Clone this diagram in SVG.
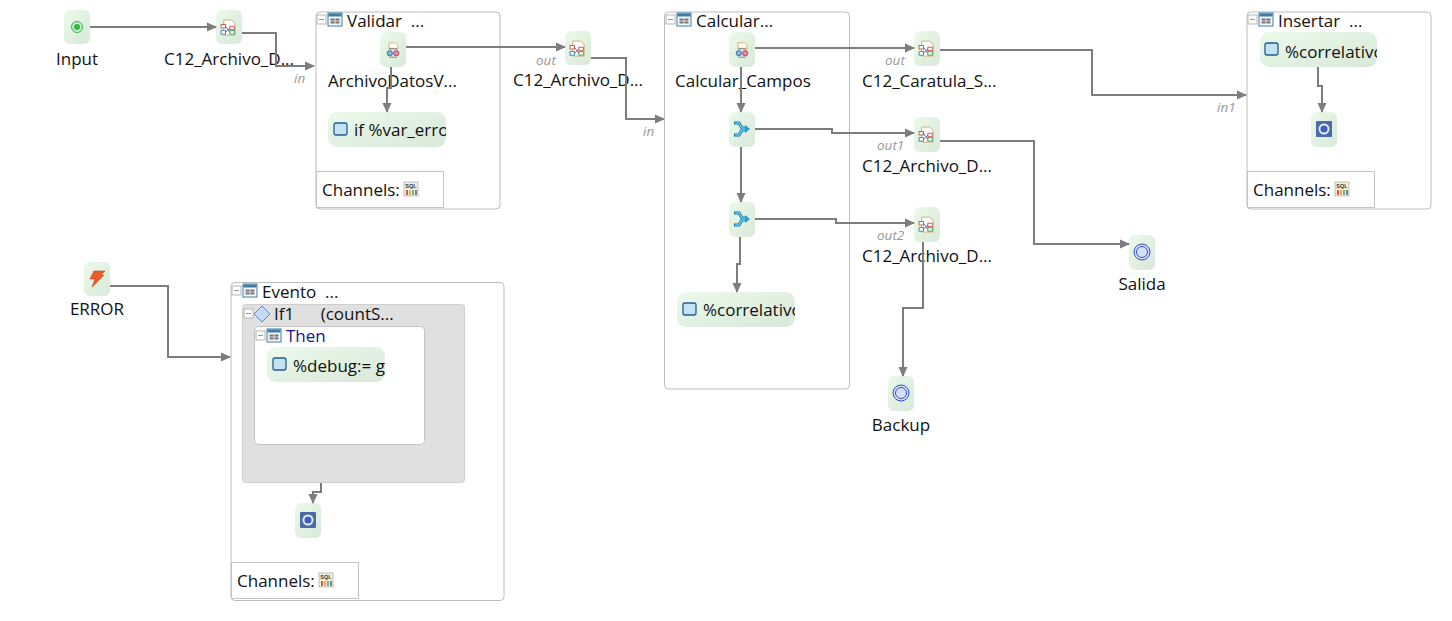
<svg xmlns="http://www.w3.org/2000/svg" width="1452" height="621" viewBox="0 0 1452 621">
<style>
text{font-family:"Open Sans","Noto Sans","Liberation Sans",sans-serif;font-size:17px;fill:#111;white-space:pre}
.port{font-size:13.500px;font-style:italic;fill:#999}
.then{fill:#14148c}
.sqlt{font-family:"Liberation Sans",sans-serif;font-size:5.500px;font-weight:bold;fill:#333}
.box{fill:#fff;stroke:#bdbdbd;stroke-width:1}
.ch{fill:#fff;stroke:#c4c4c4;stroke-width:1}
.c{fill:none;stroke:#7d7d7d;stroke-width:2;marker-end:url(#arr)}
.n{fill:url(#g)}
</style>
<defs>
<linearGradient id="g" x1="0" y1="0" x2="1" y2="1"><stop offset="0" stop-color="#ebfaea"/><stop offset="1" stop-color="#d8e8d9"/></linearGradient>
<marker id="arr" markerWidth="10" markerHeight="10" refX="9" refY="5" orient="auto" markerUnits="userSpaceOnUse"><path d="M0 0.500L10 5L0 9.500Z" fill="#7d7d7d"/></marker>
<g id="collapse"><rect width="9" height="9" fill="#fff" stroke="#b5b5b5"/><path d="M2 4.500H7" stroke="#999"/></g>
<g id="tbl"><rect width="14" height="13" fill="#f4f8fb" stroke="#3d7ea8"/><rect x="0.500" y="0.500" width="13" height="3" fill="#3d7ea8"/><rect x="2.500" y="5.500" width="9" height="5" fill="#777"/><path d="M7 5v6M2 8h10" stroke="#fff" stroke-width=".7"/></g>
<g id="sql"><rect width="14" height="14" fill="#f3efdf" stroke="#999" stroke-width=".6"/><text class="sqlt" x="7" y="6" text-anchor="middle">SQL</text><path d="M3 8v5" stroke="#c33" stroke-width="1.600"/><path d="M6 8v5" stroke="#d9a520" stroke-width="1.600"/><path d="M9 8v5" stroke="#4a8" stroke-width="1.600"/><path d="M12 8v5" stroke="#666" stroke-width="1.600"/></g>
<g id="doc" transform="scale(.88)"><path d="M-6-9H3L7-5V8H-6Z" fill="#fff" stroke="#c9a860"/><rect x="-9" y="-4" width="5" height="4" fill="#fff" stroke="#c0504d"/><rect x="-9" y="3" width="5" height="4" fill="#fff" stroke="#3d7ea8"/><rect x="1" y="-2" width="5" height="4" fill="#fff" stroke="#c0504d"/><rect x="1" y="3" width="5" height="4" fill="#fff" stroke="#3a9a52"/><path d="M-4-2L1 5M-4 5L1 0" stroke="#446" stroke-width=".8"/></g>
<g id="xf" transform="scale(.8)"><path d="M-5-9H3L6-6V-1H-5Z" fill="#fff" stroke="#c9a860"/><circle cx="-4" cy="4" r="3.300" fill="#7fb4e0" stroke="#2b5c8a"/><circle cx="4" cy="4" r="3.300" fill="#e88aa0" stroke="#a03050"/><path d="M-5-2H5M-5 9H5" stroke="#555" stroke-width=".8"/></g>
<g id="mg"><path d="M-7-6H-2L1-1H6M-7 6H-2L1 1H6" fill="none" stroke="#1a6fa0" stroke-width="3.200"/><path d="M-6-6H-2L1-1H6M-6 6H-2L1 1H6" fill="none" stroke="#5cd0f4" stroke-width="1.600"/><path d="M4-4L9 0L4 4Z" fill="#2a9ccc"/></g>
<g id="stop"><rect x="-8" y="-8" width="16" height="16" rx="1" fill="#4a6aa8"/><circle r="5.500" fill="#e8eef8"/><circle r="3.600" fill="#3f60b8"/></g>
<g id="end"><circle r="8" fill="#d6e0fa" stroke="#3050c0"/><circle r="5.500" fill="#d6e0fa" stroke="#3050c0"/></g>
<g id="act"><rect x="-7" y="-6" width="13" height="12" rx="2" fill="#c4e2f4" stroke="#1f5f8f" stroke-width="1.300"/></g>
<clipPath id="c1"><rect x="328" y="112" width="118" height="35"/></clipPath>
<clipPath id="c2"><rect x="677" y="292" width="118" height="35"/></clipPath>
<clipPath id="c3"><rect x="1260" y="32" width="117" height="35"/></clipPath>
<clipPath id="c4"><rect x="267" y="347" width="118" height="35"/></clipPath>
</defs>

<g id="validar"><rect class="box" x="316" y="12" width="184" height="197" rx="4"/><rect class="ch" x="316.500" y="171.500" width="127" height="36"/><use href="#collapse" x="317" y="15"/><use href="#tbl" x="328" y="13"/><text x="347" y="27">Validar  ...</text><text x="322" y="196">Channels:</text><use href="#sql" x="404" y="182"/></g>
<g id="calcular"><rect class="box" x="664.500" y="12" width="185" height="377" rx="4"/><use href="#collapse" x="666" y="15"/><use href="#tbl" x="677" y="13"/><text x="696" y="27">Calcular...</text></g>
<g id="insertar"><rect class="box" x="1247" y="12" width="184" height="197" rx="4"/><rect class="ch" x="1247.500" y="171.500" width="127" height="36"/><use href="#collapse" x="1248" y="15"/><use href="#tbl" x="1259" y="13"/><text x="1278" y="27">Insertar  ...</text><text x="1253" y="196">Channels:</text><use href="#sql" x="1335" y="182"/></g>
<g id="evento"><rect class="box" x="231" y="282.500" width="273" height="318" rx="4"/><rect class="ch" x="231.500" y="562.500" width="127" height="36"/><use href="#collapse" x="232" y="286"/><use href="#tbl" x="243" y="284"/><text x="262" y="298">Evento  ...</text><text x="237" y="587">Channels:</text><use href="#sql" x="319" y="573"/></g>
<g id="if1"><rect x="242.500" y="304.500" width="222" height="178" rx="3" fill="#e0e0e0" stroke="#cfcfcf"/><use href="#collapse" x="244" y="309"/><path d="M262 306L270 314L262 322L254 314Z" fill="#c8daf8" stroke="#5f86c8"/><text x="274" y="320">If1      (countS...</text></g>
<g id="then"><rect x="254.500" y="326.500" width="170" height="118" rx="4" fill="#fff" stroke="#c4c4c4"/><use href="#collapse" x="256" y="331"/><use href="#tbl" x="267" y="329"/><text class="then" x="286" y="342">Then</text></g>

<g id="input"><rect class="n" x="64" y="10" width="26" height="34" rx="6"/><circle cx="77" cy="27" r="5.500" fill="#c8f0c8" stroke="#3cb043"/><circle cx="77" cy="27" r="3" fill="#2fb84a"/><text x="77" y="65" text-anchor="middle">Input</text></g>
<g id="c12a"><rect class="n" x="216" y="10" width="26" height="34" rx="6"/><use href="#doc" x="229" y="28"/><text x="164" y="65">C12_Archivo_D...</text></g>
<g id="archivodatos"><rect class="n" x="380" y="32" width="26" height="35" rx="6"/><use href="#xf" x="393" y="50"/><text x="328" y="87">ArchivoDatosV...</text></g>
<g id="ifvar"><rect class="n" x="328" y="112" width="118" height="35" rx="9"/><use href="#act" x="341" y="129"/><text x="354" y="136" clip-path="url(#c1)">if %var_error</text></g>
<g id="c12b"><rect class="n" x="565" y="31" width="26" height="34" rx="6"/><use href="#doc" x="578" y="49"/><text x="513" y="86">C12_Archivo_D...</text></g>
<g id="calcampos"><rect class="n" x="729" y="32" width="26" height="35" rx="6"/><use href="#xf" x="742" y="50"/><text x="675" y="87">Calcular_Campos</text></g>
<g id="merge1"><rect class="n" x="729" y="112" width="26" height="35" rx="6"/><use href="#mg" x="741" y="129"/></g>
<g id="merge2"><rect class="n" x="729" y="202" width="26" height="35" rx="6"/><use href="#mg" x="741" y="219"/></g>
<g id="correl"><rect class="n" x="677" y="292" width="118" height="35" rx="9"/><use href="#act" x="690" y="309"/><text x="703" y="316" clip-path="url(#c2)">%correlativo</text></g>
<g id="caratula"><rect class="n" x="914" y="31" width="26" height="35" rx="6"/><use href="#doc" x="927" y="49"/><text x="862" y="87">C12_Caratula_S...</text></g>
<g id="c12c"><rect class="n" x="914" y="117" width="26" height="35" rx="6"/><use href="#doc" x="927" y="135"/><text x="862" y="172">C12_Archivo_D...</text></g>
<g id="c12d"><rect class="n" x="914" y="207" width="26" height="35" rx="6"/><use href="#doc" x="927" y="225"/><text x="862" y="262">C12_Archivo_D...</text></g>
<g id="salida"><rect class="n" x="1129" y="235" width="26" height="35" rx="6"/><use href="#end" x="1142" y="252"/><text x="1142" y="290" text-anchor="middle">Salida</text></g>
<g id="backup"><rect class="n" x="888" y="376" width="26" height="35" rx="6"/><use href="#end" x="901" y="393"/><text x="901" y="431" text-anchor="middle">Backup</text></g>
<g id="correl2"><rect class="n" x="1260" y="32" width="117" height="35" rx="9"/><use href="#act" x="1272" y="49"/><text x="1285" y="58" clip-path="url(#c3)">%correlativo</text></g>
<g id="stop1"><rect class="n" x="1311" y="112" width="26" height="35" rx="6"/><use href="#stop" x="1324" y="129"/></g>
<g id="error"><rect class="n" x="84" y="262" width="26" height="34" rx="6"/><path d="M94 271H105L101 275H104L92 287L95 279H90Z" fill="#ef5a2a" stroke="#c8401a" stroke-width=".6"/><text x="97" y="315" text-anchor="middle">ERROR</text></g>
<g id="debug"><rect class="n" x="267" y="347" width="118" height="35" rx="9"/><use href="#act" x="280" y="364"/><text x="293" y="372" clip-path="url(#c4)">%debug:= g</text></g>
<g id="stop2"><rect class="n" x="295" y="503" width="26" height="35" rx="6"/><use href="#stop" x="308" y="520"/></g>

<g id="connectors">
<path class="c" d="M90 27H216"/>
<path class="c" d="M242 33H276V66H314"/>
<path class="c" d="M406 47H565"/>
<path class="c" d="M391 67V88H387V112"/>
<path class="c" d="M591 58H626V119H664"/>
<path class="c" d="M755 48H914"/>
<path class="c" d="M741 67V112"/>
<path class="c" d="M755 129H832V133H914"/>
<path class="c" d="M741 147V202"/>
<path class="c" d="M755 219H836V223H914"/>
<path class="c" d="M740 237V264H737V292"/>
<path class="c" d="M940 50H1092V95H1246"/>
<path class="c" d="M940 141H1034V244H1129"/>
<path class="c" d="M923 242V308H903V376"/>
<path class="c" d="M1318 67V86H1322V112"/>
<path class="c" d="M110 286H168V357H230"/>
<path class="c" d="M321 483V492H313V503"/>
</g>
<g id="port-labels">
<text class="port" x="294" y="83">in</text>
<text class="port" x="536" y="65">out</text>
<text class="port" x="643" y="136">in</text>
<text class="port" x="885" y="65">out</text>
<text class="port" x="877" y="150">out1</text>
<text class="port" x="877" y="240">out2</text>
<text class="port" x="1217" y="112">in1</text>
</g>
</svg>
